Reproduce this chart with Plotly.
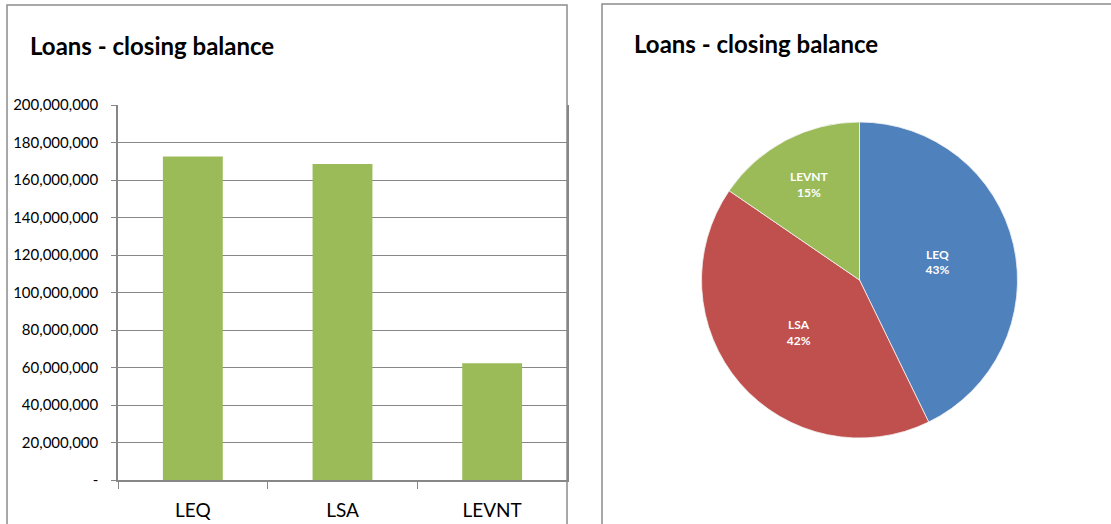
import plotly.graph_objects as go

# Loan closing balances per entity
categories = ["LEQ", "LSA", "LEVNT"]
closing_balance = [172_600_000, 168_500_000, 62_300_000]

# Value axis ticks
y_tickvals = [0, 20_000_000, 40_000_000, 60_000_000, 80_000_000, 100_000_000,
              120_000_000, 140_000_000, 160_000_000, 180_000_000, 200_000_000]
y_ticktext = ["-", "20,000,000", "40,000,000", "60,000,000", "80,000,000", "100,000,000",
              "120,000,000", "140,000,000", "160,000,000", "180,000,000", "200,000,000"]

chart_title = "Loans - closing balance"
pie_colors = ["#4F81BD", "#C0504D", "#9BBB59"]
bar_color = "#9BBB59"

W, H = 1111, 524
FONT = "Lato, 'Open Sans', sans-serif"
GRID = "#878787"

def px(x):
    return x / W

def py(y):
    return (H - y) / H

fig = go.Figure()

fig.add_trace(go.Bar(
    x=categories,
    y=closing_balance,
    marker=dict(color=bar_color, line=dict(width=0)),
    xaxis="x", yaxis="y",
    showlegend=False,
    hoverinfo="x+y",
))

fig.add_trace(go.Pie(
    labels=categories,
    values=closing_balance,
    sort=False,
    direction="clockwise",
    rotation=0,
    marker=dict(colors=pie_colors, line=dict(color="#f4f4f4", width=0.8)),
    texttemplate="<b>%{label}<br>%{percent:.0%}</b>",
    textposition="inside",
    insidetextorientation="horizontal",
    textfont=dict(family=FONT, size=12, color="white"),
    domain=dict(x=[px(701.5), px(1017.5)], y=[py(438.5), py(121.5)]),
    showlegend=False,
))

fig.update_layout(
    width=W, height=H,
    autosize=False,
    margin=dict(l=0, r=0, t=0, b=0, pad=0, autoexpand=False),
    paper_bgcolor="white",
    plot_bgcolor="white",
    bargap=0.6,
    font=dict(family=FONT, color="black"),
    xaxis=dict(
        domain=[px(118), px(567)],
        anchor="y",
        automargin=False,
        showline=True, linecolor=GRID, linewidth=1.5,
        ticks="outside", tickson="boundaries", ticklen=7, tickcolor=GRID,
        tickfont=dict(size=19, family=FONT, color="black"),
        ticklabelstandoff=12,
        showgrid=False,
        fixedrange=True,
    ),
    yaxis=dict(
        domain=[py(480), py(105)],
        anchor="x",
        automargin=False,
        range=[0, 200_000_000],
        tickvals=y_tickvals, ticktext=y_ticktext,
        showline=True, linecolor=GRID, linewidth=1.5, mirror=True,
        ticks="outside", ticklen=5, tickcolor=GRID,
        tickfont=dict(size=15, family=FONT, color="black"),
        ticklabelstandoff=10,
        showgrid=True, gridcolor=GRID, gridwidth=1,
        zeroline=False,
        fixedrange=True,
    ),
    shapes=[
        dict(type="rect", xref="paper", yref="paper",
             x0=px(7), x1=px(567), y0=-0.05, y1=py(5),
             line=dict(color="#8c8c8c", width=1.5), layer="below"),
        dict(type="rect", xref="paper", yref="paper",
             x0=px(602), x1=1.05, y0=-0.05, y1=py(4),
             line=dict(color="#8c8c8c", width=1.5), layer="below"),
    ],
    annotations=[
        dict(text=f"<b>{chart_title}</b>", xref="paper", yref="paper",
             x=px(28), y=py(46), xanchor="left", yanchor="middle",
             showarrow=False, font=dict(size=24, family=FONT, color="black")),
        dict(text=f"<b>{chart_title}</b>", xref="paper", yref="paper",
             x=px(632), y=py(43), xanchor="left", yanchor="middle",
             showarrow=False, font=dict(size=24, family=FONT, color="black")),
    ],
)

fig.write_html("out.html")
